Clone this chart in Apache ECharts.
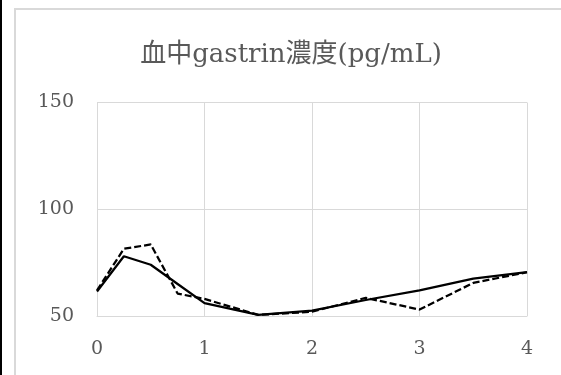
<!DOCTYPE html>
<html>
<head>
<meta charset="utf-8">
<script src="https://cdn.jsdelivr.net/npm/echarts@6/dist/echarts.min.js"></script>
<style>
html,body{margin:0;padding:0;background:#fff;}
#chart{width:561px;height:375px;}
</style>
</head>
<body>
<div id="chart"></div>
<script>
var titleText = '血中gastrin濃度(pg/mL)';
var xValues = [0, 0.25, 0.5, 0.75, 1, 1.5, 2, 2.5, 3, 3.5, 4];
var solidValues = [61.5, 78, 74, 65, 56, 50.5, 52.5, 57.5, 62, 67.5, 70.5];
var dashedValues = [62, 81.5, 83.5, 60.5, 58, 50.5, 52, 58.5, 53, 65.5, 70.5];
var xTicks = [0, 1, 2, 3, 4];
var yTicks = [50, 100, 150];

function pairs(xs, ys) { return xs.map(function (x, i) { return [x, ys[i]]; }); }

var fontFam = '"DejaVu Serif", "Liberation Serif", "Noto Sans CJK JP", serif';
var chart = echarts.init(document.getElementById('chart'), null, { renderer: 'canvas' });
chart.setOption({
  backgroundColor: '#ffffff',
  animation: false,
  graphic: [
    { type: 'rect', shape: { x: 0, y: 0, width: 2, height: 375 }, style: { fill: '#000' } },
    { type: 'rect', shape: { x: 15, y: 9, width: 560, height: 380 }, style: { fill: 'none', stroke: '#d9d9d9', lineWidth: 2 } }
  ],
  title: {
    text: titleText,
    left: 286,
    top: 37,
    textAlign: 'center',
    textStyle: { color: '#595959', fontSize: 26, fontWeight: 'normal', fontFamily: fontFam }
  },
  grid: { left: 97, right: 34, top: 102.5, bottom: 59, containLabel: false },
  xAxis: {
    type: 'value',
    min: xTicks[0],
    max: xTicks[xTicks.length - 1],
    interval: 1,
    axisLine: { show: true, lineStyle: { color: '#d9d9d9', width: 1 } },
    axisTick: { show: false },
    splitLine: { show: true, lineStyle: { color: '#d9d9d9', width: 1 } },
    axisLabel: { color: '#595959', fontSize: 19, fontFamily: fontFam, margin: 24 }
  },
  yAxis: {
    type: 'value',
    min: yTicks[0],
    max: yTicks[yTicks.length - 1],
    interval: 50,
    axisLine: { show: true, lineStyle: { color: '#d9d9d9', width: 1 } },
    axisTick: { show: false },
    splitLine: { show: true, lineStyle: { color: '#d9d9d9', width: 1 } },
    axisLabel: { color: '#595959', fontSize: 19, fontFamily: fontFam, margin: 23 }
  },
  series: [
    {
      name: 'solid', type: 'line', data: pairs(xValues, solidValues),
      showSymbol: false, symbol: 'none',
      lineStyle: { color: '#000', width: 2.25, type: 'solid' }
    },
    {
      name: 'dashed', type: 'line', data: pairs(xValues, dashedValues),
      showSymbol: false, symbol: 'none',
      lineStyle: { color: '#000', width: 2.25, type: [7, 3] }
    }
  ]
});
</script>
</body>
</html>
